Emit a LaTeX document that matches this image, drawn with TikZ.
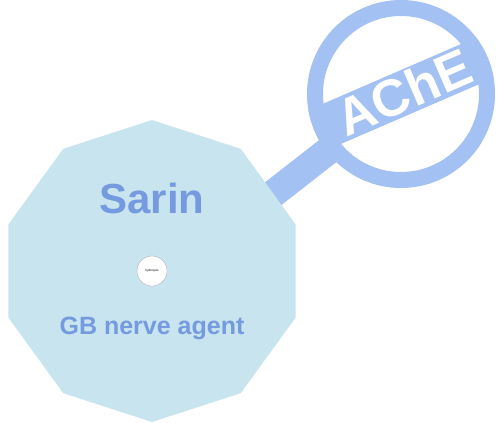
\documentclass[tikz,border=0pt]{standalone}
\usepackage{fontspec}
\setmainfont{Liberation Sans}
\definecolor{sarinfill}{HTML}{C8E4EF}
\definecolor{sarintext}{HTML}{769ADF}
\definecolor{lensblue}{HTML}{A3C1F2}
\begin{document}
\begin{tikzpicture}[x=1pt, y=-1pt,
    lens/.style={lensblue},
    title/.style={text=sarintext, font=\bfseries\fontsize{42}{42}\selectfont},
    subtitle/.style={text=sarintext, font=\bfseries\fontsize{25}{25}\selectfont},
    bubble/.style={circle, draw=gray!60, fill=white, minimum size=30pt, inner sep=0pt, font=\fontsize{3}{3}\selectfont}]
    \useasboundingbox (0,0) rectangle (502,422);
            % handle, partly under the decagon
            \draw[lens, line width=28pt] (333,147) -- (251,211);
            % decagon
            \begin{scope}[shift={(152,271)}]
                \fill[sarinfill] (90:151) \foreach \k in {1,...,9} { -- (90+36*\k:151) } -- cycle;
            \end{scope}
            % lens ring and band
            \begin{scope}
                \clip (401,94) circle (94);
                \fill[lens, rotate around={23.4:(401,94)}] (291,72) rectangle (511,116);
            \end{scope}
            \draw[lens, line width=16pt] (401,94) circle (86);
            \node[rotate=23.4, text=white, font=\bfseries\fontsize{52}{52}\selectfont] (ache) at (404,92) {AChE};
            % labels
            \node[title] (sarin) at (152,198) {Sarin};
            \node[subtitle] (gb) at (152,328) {GB nerve agent};
            \node[bubble] (hydro) at (152,271) {hydrolysis};
\end{tikzpicture}
\end{document}
